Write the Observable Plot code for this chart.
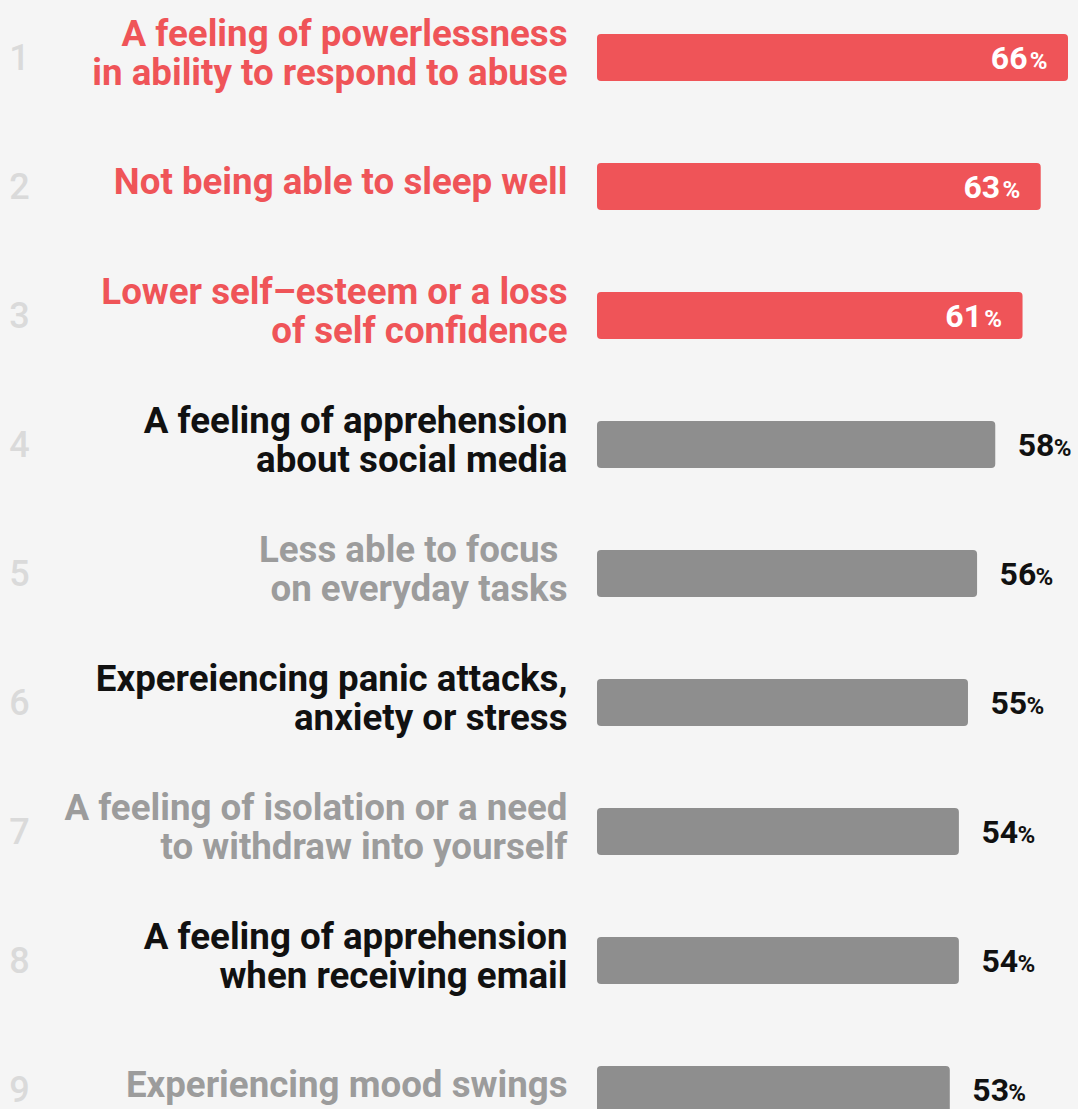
<!DOCTYPE html>
<html>
<head>
<meta charset="utf-8">
<script src="https://cdn.jsdelivr.net/npm/d3@7"></script>
<script src="https://cdn.jsdelivr.net/npm/@observablehq/plot@0.6"></script>
<style>
  html, body { margin: 0; padding: 0; background: #f5f5f5; width: 1078px; height: 1109px; overflow: hidden; }
  #chart svg { display: block; overflow: hidden; }
</style>
</head>
<body>
<div id="chart"></div>
<script>
const ranks = [1, 2, 3, 4, 5, 6, 7, 8, 9];
const labels = [
  "A feeling of powerlessness\nin ability to respond to abuse",
  "Not being able to sleep well",
  "Lower self\u2013esteem or a loss\nof self confidence",
  "A feeling of apprehension\nabout social media",
  "Less able to focus\u00a0\non everyday tasks",
  "Expereiencing panic attacks,\nanxiety or stress",
  "A feeling of isolation or a need\nto withdraw into yourself",
  "A feeling of apprehension\nwhen receiving email",
  "Experiencing mood swings"
];
const values = [66, 63, 61, 58, 56, 55, 54, 54, 53];
const highlight = [true, true, true, false, false, false, false, false, false];
const labelTone = ["red", "red", "red", "dark", "light", "dark", "light", "dark", "light"];

const red = "#ef5458";
const toneColor = {red: red, dark: "#111111", light: "#9c9c9c"};

const data = ranks.map((r, i) => ({
  rank: r, label: labels[i], value: values[i], hi: highlight[i], tone: labelTone[i]
}));
const barBase = 14.2;

const font = "Roboto, 'Noto Sans', sans-serif";

const chart = Plot.plot({
  width: 1078,
  height: 1109,
  marginLeft: 597,
  marginRight: 10,
  marginTop: 0,
  marginBottom: 0,
  style: {background: "#f5f5f5", fontFamily: font},
  x: {domain: [barBase, 66], axis: null},
  y: {type: "band", domain: ranks, range: [-9.75, 1155.75], padding: 0, axis: null},
  marks: [
    Plot.rectX(data, {
      y: "rank", x1: barBase, x2: "value",
      fill: d => d.hi ? red : "#8e8e8e",
      insetTop: 41, insetBottom: 41, rx: 4
    }),
    // rank numbers
    Plot.text(data, {
      y: "rank", text: d => String(d.rank), frameAnchor: "left", dx: -578,
      textAnchor: "middle", lineAnchor: "bottom", dy: 12,
      fontSize: 36, fontWeight: 500, fill: "#dadada"
    }),
    // category labels
    Plot.text(data, {
      y: "rank", text: "label", frameAnchor: "left", dx: -30,
      textAnchor: "end", lineAnchor: "middle", fontSize: 36.7, fontWeight: 700,
      lineHeight: 1.06, dy: -5,
      fill: d => toneColor[d.tone]
    }),
    // value numbers: inside for highlighted bars
    Plot.text(data.filter(d => d.hi), {
      y: "rank", x: "value", text: d => String(d.value), textAnchor: "end",
      lineAnchor: "bottom", dx: -41, dy: 11, fontSize: 32, fontWeight: 700, fill: "white"
    }),
    Plot.text(data.filter(d => d.hi), {
      y: "rank", x: "value", text: d => "%", textAnchor: "end",
      lineAnchor: "bottom", dx: -21, dy: 11, fontSize: 24, fontWeight: 700, fill: "white"
    }),
    // value numbers: outside for others
    Plot.text(data.filter(d => !d.hi), {
      y: "rank", x: "value", text: d => String(d.value), textAnchor: "start",
      lineAnchor: "bottom", dx: 22, dy: 11, fontSize: 32, fontWeight: 700, fill: "#111111"
    }),
    Plot.text(data.filter(d => !d.hi), {
      y: "rank", x: "value", text: d => "%", textAnchor: "start",
      lineAnchor: "bottom", dx: 58, dy: 11, fontSize: 24, fontWeight: 700, fill: "#111111"
    })
  ]
});
document.getElementById("chart").appendChild(chart);
</script>
</body>
</html>
